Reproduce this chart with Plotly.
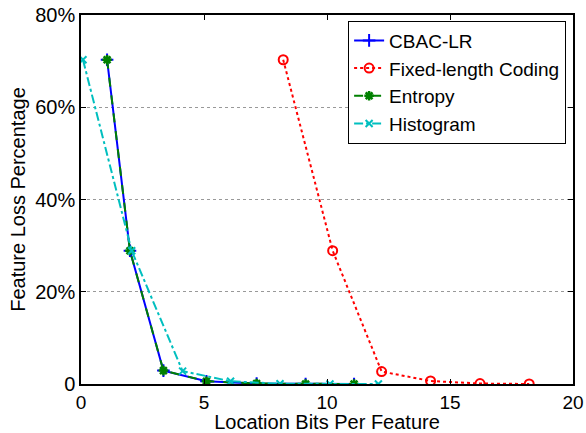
import plotly.graph_objects as go

cbac_x = [1.06, 1.99, 3.35, 5.1, 7.14, 9.13, 11.1]
cbac_y = [70.3, 28.9, 2.9, 0.6, 0.1, 0.0, 0.0]
fixed_x = [8.22, 10.23, 12.22, 14.21, 16.22, 18.22]
fixed_y = [70.3, 28.9, 2.7, 0.65, 0.1, 0.0]
entropy_x = [1.06, 1.99, 3.35, 5.1, 7.14, 9.13, 11.1]
entropy_y = [70.3, 28.9, 2.9, 0.6, 0.1, 0.0, 0.0]
hist_x = [0.08, 2.06, 4.13, 6.08, 8.09, 10.12, 12.09]
hist_y = [70.3, 28.9, 2.8, 0.6, 0.05, 0.0, 0.0]

x_ticks = [0, 5, 10, 15, 20]
y_ticks = [0, 20, 40, 60, 80]
y_tick_labels = ["0", "20%", "40%", "60%", "80%"]

font = "Liberation Sans, Arial, Helvetica, sans-serif"

fig = go.Figure()
fig.add_trace(go.Scatter(x=cbac_x, y=cbac_y, name="CBAC-LR", mode="lines+markers",
                         line=dict(color="#0000ff", width=2, dash="solid"),
                         marker=dict(symbol="cross-thin", size=9, line=dict(color="#0000ff", width=2))))
fig.add_trace(go.Scatter(x=fixed_x, y=fixed_y, name="Fixed-length Coding", mode="lines+markers",
                         line=dict(color="#ff0000", width=2, dash="dot"),
                         marker=dict(symbol="circle-open", size=9, color="#ff0000", line=dict(color="#ff0000", width=2))))
fig.add_trace(go.Scatter(x=entropy_x, y=entropy_y, name="Entropy", mode="lines+markers",
                         line=dict(color="#008000", width=2, dash="dash"),
                         marker=dict(symbol="asterisk-open", size=8, color="#008000", line=dict(color="#008000", width=2.5))))
fig.add_trace(go.Scatter(x=hist_x, y=hist_y, name="Histogram", mode="lines+markers",
                         line=dict(color="#00bfbf", width=2, dash="dashdot"),
                         marker=dict(symbol="x-thin-open", size=7, color="#00bfbf", line=dict(color="#00bfbf", width=2))))

fig.update_layout(
    width=586, height=433,
    margin=dict(l=81, r=13, t=15, b=49),
    paper_bgcolor="white", plot_bgcolor="white",
    font=dict(family=font, size=19, color="black"),
    showlegend=True,
    legend=dict(x=0.986, y=0.985, xanchor="right", yanchor="top",
                bgcolor="white", bordercolor="black", borderwidth=1,
                font=dict(family=font, size=19, color="black"),
                tracegroupgap=0, itemwidth=30),
    xaxis=dict(range=[0, 20], tickvals=x_ticks, ticks="inside", ticklen=5,
               tickcolor="black", showline=True, linecolor="black", linewidth=1.5,
               mirror="ticks", showgrid=False, zeroline=False, automargin=False,
               title=dict(text="Location Bits Per Feature", standoff=4, font=dict(size=20)),
               tickfont=dict(size=19)),
    yaxis=dict(range=[0, 80], tickvals=y_ticks, ticktext=y_tick_labels, ticks="inside", ticklen=5,
               tickcolor="black", showline=True, linecolor="black", linewidth=1.5,
               mirror="ticks", showgrid=True, gridcolor="#999999", griddash="dot", gridwidth=1,
               zeroline=False, automargin=False,
               title=dict(text="Feature Loss Percentage", standoff=4, font=dict(size=20)),
               tickfont=dict(size=20)),
)

fig.write_html("out.html", config={"displayModeBar": False},
               post_script="document.body.style.margin='0';")
